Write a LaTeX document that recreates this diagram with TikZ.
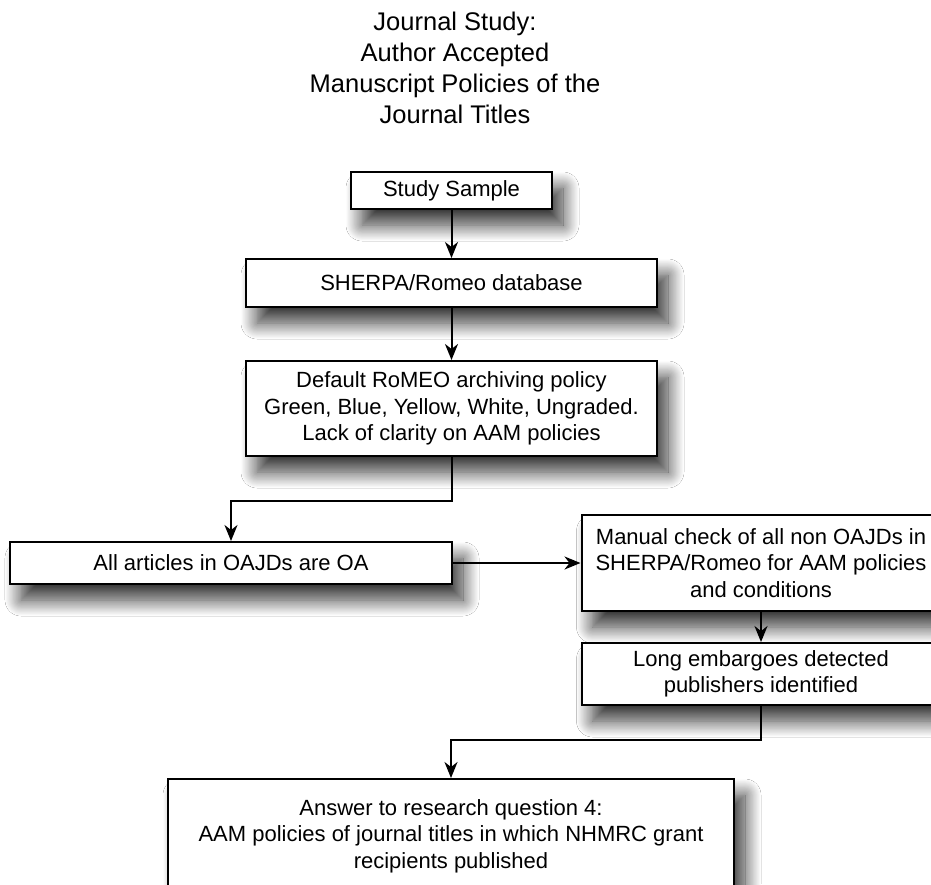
\documentclass[tikz,border=0pt]{standalone}
\usepackage{fontspec}
\setmainfont{Liberation Sans}
\usetikzlibrary{arrows.meta,shadows.blur}

\newcommand{\boxfont}{\fontsize{22}{26.5}\selectfont}
\newcommand{\titlefont}{\fontsize{25.5}{31}\selectfont}

\tikzset{
  box/.style={rectangle, draw=black, line width=2pt, fill=white,
    align=center, inner sep=2pt, font=\boxfont,
    blur shadow={shadow xshift=11pt, shadow yshift=-16pt,
      shadow blur radius=16pt, shadow blur steps=20, shadow opacity=80}},
  link/.style={line width=2pt, -{Stealth[length=16pt,width=13pt,inset=5pt]}},
  heading/.style={align=center, font=\titlefont, inner sep=0pt}
}

\begin{document}
\begin{tikzpicture}[x=1pt, y=-1pt]
  \useasboundingbox (0,0) rectangle (931,884);
  \clip (0,0) rectangle (931,884);
  \fill[white] (0,0) rectangle (931,884);

  % title
  \node[heading] (title) at (455,68)
    {Journal Study:\\Author Accepted\\Manuscript Policies of the\\Journal Titles};

  % boxes
  \node[box, minimum width=201pt, minimum height=37pt] (study) at (451.5,190.5) {Study Sample};
  \node[box, minimum width=411pt, minimum height=48pt] (sherpa) at (451.5,283) {SHERPA/Romeo database};
  \node[box, minimum width=411pt, minimum height=95pt] (deflt) at (451.5,408.5)
    {Default RoMEO archiving policy\\Green, Blue, Yellow, White, Ungraded.\\Lack of clarity on AAM policies};
  \node[box, minimum width=442pt, minimum height=42pt] (allart) at (231,563) {All articles in OAJDs are OA};
  \node[box, minimum width=359pt, minimum height=96pt] (manual) at (761,563)
    {Manual check of all non OAJDs in\\SHERPA/Romeo for AAM policies\\and conditions};
  \node[box, minimum width=359pt, minimum height=62pt] (longemb) at (761,674)
    {Long embargoes detected\\publishers identified};
  \node[box, minimum width=566pt, minimum height=114pt] (answer) at (451,836)
    {Answer to research question 4:\\AAM policies of journal titles in which NHMRC grant\\recipients published};

  % bend points of the elbow connectors
  \coordinate (j1) at (451.5,501);
  \coordinate (j2) at (761,740);

  % connectors
  \draw[link] (study) -- (sherpa);
  \draw[link] (sherpa) -- (deflt);
  \draw[link] (deflt.south) -- (j1) -| (allart.north);
  \draw[link] (allart.east) -- (manual.west);
  \draw[link] (manual) -- (longemb);
  \draw[link] (longemb.south) -- (j2) -| (answer.north);
\end{tikzpicture}
\end{document}
